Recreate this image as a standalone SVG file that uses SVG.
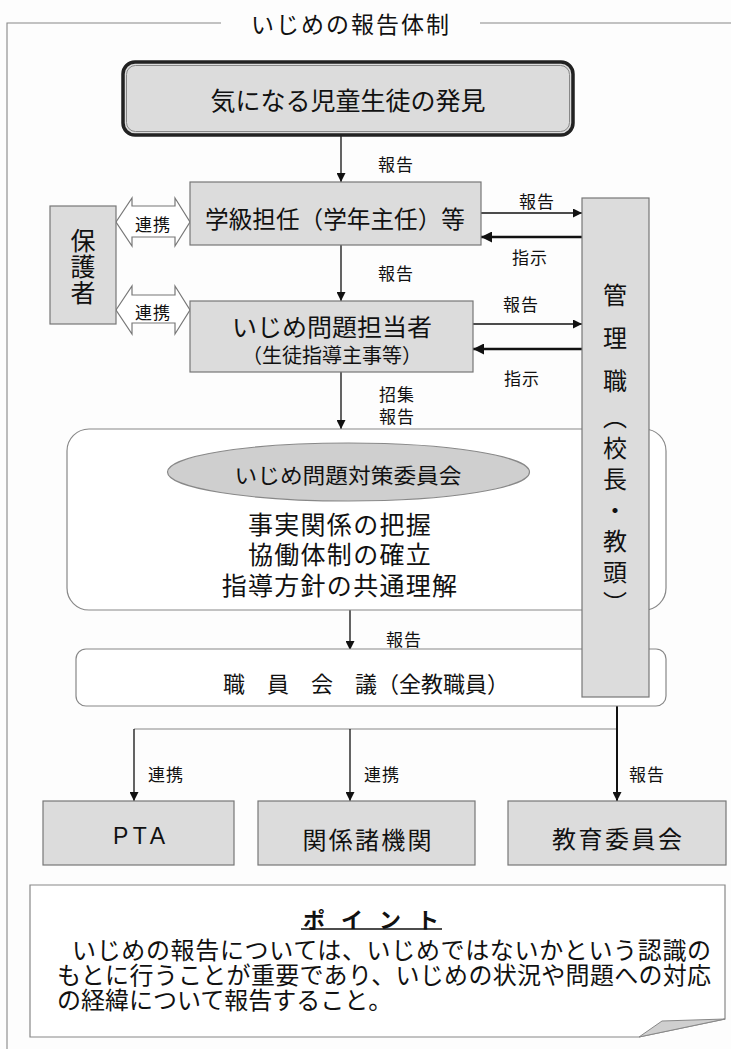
<svg xmlns="http://www.w3.org/2000/svg" width="731" height="1049" viewBox="0 0 731 1049">
<defs>
<marker id="ah" viewBox="0 0 10 10" refX="10" refY="5" markerWidth="10" markerHeight="9" markerUnits="userSpaceOnUse" orient="auto"><path d="M0,0 L10,5 L0,10 Z" fill="#111"/></marker>
<marker id="ahb" viewBox="0 0 10 10" refX="10" refY="5" markerWidth="12" markerHeight="11" markerUnits="userSpaceOnUse" orient="auto"><path d="M0,0 L10,5 L0,10 Z" fill="#111"/></marker>
</defs>
<style>
text{font-family:"Noto Sans CJK JP","Noto Sans CJK SC",sans-serif;fill:#111;}
.box{fill:#dcdcdc;stroke:#777;stroke-width:1.2}
.wbox{fill:#fff;stroke:#888;stroke-width:1.2}
.lbl{font-size:17px;text-anchor:middle;dominant-baseline:central;letter-spacing:1px}
.c{text-anchor:middle;dominant-baseline:central}
.ln{stroke:#111;stroke-width:1.3;fill:none}
.lnb{stroke:#111;stroke-width:2.6;fill:none}
.thin{stroke:#888;stroke-width:1.1;fill:none}
.dbl{fill:#fff;stroke:#777;stroke-width:1.2}
.vt{writing-mode:vertical-rl;font-size:24px}
.body{font-size:24px;dominant-baseline:central}
</style>
<rect x="0" y="0" width="731" height="1049" fill="#fdfdfd"/>

<g id="frame">
<path d="M7,1049 V23 H221 M480,23 H731" class="thin"/>
<text x="351" y="23" class="c" style="font-size:23px;letter-spacing:2px">いじめの報告体制</text>
</g>

<g id="connectors">
<line x1="341" y1="136" x2="341" y2="182" class="ln" marker-end="url(#ah)"/>
<text x="396" y="163" class="lbl">報告</text>
<line x1="341" y1="245" x2="341" y2="301" class="ln" marker-end="url(#ah)"/>
<text x="396" y="272" class="lbl">報告</text>
<line x1="481" y1="213" x2="582" y2="213" class="ln" marker-end="url(#ah)"/>
<text x="537" y="200" class="lbl">報告</text>
<line x1="582" y1="237" x2="481" y2="237" class="lnb" marker-end="url(#ahb)"/>
<text x="530" y="256" class="lbl">指示</text>
<line x1="473" y1="324" x2="582" y2="324" class="ln" marker-end="url(#ah)"/>
<text x="521" y="303" class="lbl">報告</text>
<line x1="582" y1="349" x2="473" y2="349" class="lnb" marker-end="url(#ahb)"/>
<text x="522" y="377" class="lbl">指示</text>
<path d="M116,222 L132,198 L132,206 L175,206 L175,198 L190,222 L175,246 L175,237 L132,237 L132,246 Z" class="dbl"/>
<text x="153" y="223" class="lbl">連携</text>
<path d="M116,310 L132,286 L132,295 L175,295 L175,286 L190,310 L175,334 L175,323 L132,323 L132,334 Z" class="dbl"/>
<text x="153" y="311" class="lbl">連携</text>
<line x1="341" y1="372" x2="341" y2="429" class="ln" marker-end="url(#ah)"/>
<text class="lbl"><tspan x="397" y="393">招集</tspan><tspan x="397" y="415">報告</tspan></text>
<line x1="350" y1="610" x2="350" y2="650" class="ln" marker-end="url(#ah)"/>
<text x="404" y="638" class="lbl">報告</text>
<line x1="134" y1="729" x2="617" y2="729" class="thin"/>
<line x1="134" y1="729" x2="134" y2="801" class="ln" marker-end="url(#ah)"/>
<text x="166" y="773" class="lbl">連携</text>
<line x1="350" y1="729" x2="350" y2="801" class="ln" marker-end="url(#ah)"/>
<text x="382" y="773" class="lbl">連携</text>
<line x1="617" y1="697" x2="617" y2="801" class="ln" style="stroke-width:2" marker-end="url(#ah)"/>
<text x="647" y="773" class="lbl">報告</text>
</g>

<g id="discovery">
<rect x="123" y="62" width="450" height="73" rx="12" fill="#dcdcdc" stroke="#222" stroke-width="3.5"/>
<rect x="126.5" y="65.5" width="443" height="66" rx="9" fill="none" stroke="#888" stroke-width="1"/>
<text x="348" y="99" class="c" style="font-size:25px">気になる児童生徒の発見</text>
</g>

<g id="homeroom">
<rect x="190" y="182" width="291" height="63" class="box"/>
<text x="335" y="217" class="c" style="font-size:24px" textLength="260" lengthAdjust="spacingAndGlyphs">学級担任（学年主任）等</text>
</g>

<g id="guardian">
<rect x="50" y="206" width="66" height="118" class="box"/>
<text x="83" y="228" style="writing-mode:vertical-rl;font-size:25px;letter-spacing:1px">保護者</text>
</g>

<g id="bullying-officer">
<rect x="190" y="301" width="283" height="71" class="box"/>
<text x="332" y="325" class="c" style="font-size:24px" textLength="200" lengthAdjust="spacingAndGlyphs">いじめ問題担当者</text>
<text x="332" y="354" class="c" style="font-size:20px" textLength="180" lengthAdjust="spacingAndGlyphs">（生徒指導主事等）</text>
</g>

<g id="committee">
<rect x="67" y="429" width="599" height="181" rx="22" class="wbox"/>
<ellipse cx="348.5" cy="472" rx="181" ry="29" fill="#cfcfcf" stroke="#888" stroke-width="1.2"/>
<text x="348" y="474" class="c" style="font-size:21px" textLength="227" lengthAdjust="spacingAndGlyphs">いじめ問題対策委員会</text>
<text class="c" style="font-size:25px;letter-spacing:1.3px"><tspan x="340" y="523">事実関係の把握</tspan><tspan x="340" y="553">協働体制の確立</tspan><tspan x="340" y="584">指導方針の共通理解</tspan></text>
</g>

<g id="staff-meeting">
<rect x="76" y="649" width="590" height="57" rx="10" class="wbox"/>
<text x="366" y="682" class="c" style="font-size:22px">職　員　会　議（全教職員）</text>
</g>

<g id="management">
<rect x="582" y="198" width="67" height="499" class="box"/>
<text x="615" y="283" class="vt" style="letter-spacing:19px">管理職</text>
<text x="615" y="405" class="vt" style="letter-spacing:7px">（校長・教頭）</text>
</g>

<g id="pta">
<rect x="43" y="801" width="191" height="64" class="box"/>
<text x="139" y="836" class="c" style="font-family:'Liberation Sans',Arial,sans-serif;font-size:23px" textLength="52" lengthAdjust="spacing">PTA</text>
</g>

<g id="agencies">
<rect x="258" y="801" width="217" height="64" class="box"/>
<text x="367" y="838" class="c" style="font-size:24px" textLength="129" lengthAdjust="spacing">関係諸機関</text>
</g>

<g id="board">
<rect x="508" y="801" width="218" height="64" class="box"/>
<text x="617" y="837" class="c" style="font-size:24px" textLength="130" lengthAdjust="spacing">教育委員会</text>
</g>

<g id="point">
<path d="M30,885 H725 V1019 L639,1037 H30 Z" fill="#fff" stroke="#888" stroke-width="1.2"/>
<path d="M639,1037 L662,1021 L725,1019 Z" fill="#cfcfcf" stroke="#888" stroke-width="1"/>
<text x="303" y="918" style="font-size:22px;font-weight:bold;dominant-baseline:central;letter-spacing:16px">ポイント</text>
<line x1="301" y1="929" x2="442" y2="929" stroke="#111" stroke-width="1.3"/>
<text class="body"><tspan x="72" y="948" style="letter-spacing:0.65px">いじめの報告については、いじめではないかという認識の</tspan><tspan x="57" y="973" style="letter-spacing:0.3px">もとに行うことが重要であり、いじめの状況や問題への対応</tspan><tspan x="57" y="998">の経緯について報告すること。</tspan></text>
</g>
</svg>
